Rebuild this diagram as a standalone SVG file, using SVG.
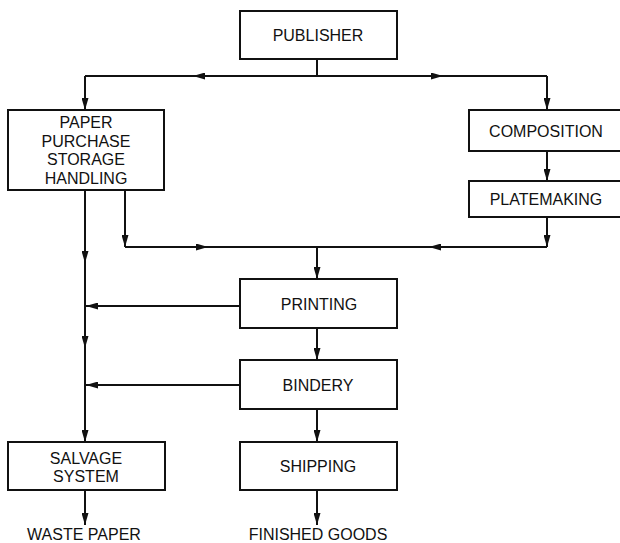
<svg xmlns="http://www.w3.org/2000/svg" width="620" height="543" viewBox="0 0 620 543">
<defs>
<marker id="ah" viewBox="0 0 12 7" refX="12" refY="3.5" markerWidth="12" markerHeight="7" markerUnits="userSpaceOnUse" orient="auto">
<path d="M0,0 L12,3.5 L0,7 Z" fill="#111"/>
</marker>
<style>
.box{fill:#fff;stroke:#111;stroke-width:2}
.lbl{font-family:"Liberation Sans",Arial,sans-serif;font-size:16px;fill:#111;text-anchor:middle}
.ln{fill:none;stroke:#111;stroke-width:2}
.ar{fill:none;stroke:#111;stroke-width:2;marker-end:url(#ah)}
</style>
</defs>
<rect width="620" height="543" fill="#fff"/>
<g id="connectors">
<path class="ln" d="M317,59 V76"/>
<path class="ln" d="M85,76 H547"/>
<path class="ar" d="M85,76 V110"/>
<path class="ar" d="M547,76 V110"/>
<path class="ar" d="M210,76 H193"/>
<path class="ar" d="M428,76 H443"/>
<path class="ar" d="M547,151 V181"/>
<path class="ar" d="M547,217 V247"/>
<path class="ln" d="M125,247 H547"/>
<path class="ar" d="M125,190 V247"/>
<path class="ar" d="M194,247 H208"/>
<path class="ar" d="M444,247 H429"/>
<path class="ar" d="M317,247 V279"/>
<path class="ar" d="M85,190 V442"/>
<path class="ar" d="M85,248 V263"/>
<path class="ar" d="M85,333 V348"/>
<path class="ar" d="M240,306 H86"/>
<path class="ar" d="M240,385 H86"/>
<path class="ar" d="M317,328 V360"/>
<path class="ar" d="M317,409 V442"/>
<path class="ar" d="M85,490 V525"/>
<path class="ar" d="M317,490 V525"/>
</g>
<g id="publisher">
<rect class="box" x="240" y="11" width="157" height="48"/>
<text class="lbl" x="318" y="41">PUBLISHER</text>
</g>
<g id="paper">
<rect class="box" x="8" y="110" width="156" height="80"/>
<text class="lbl" x="86" y="128">PAPER</text>
<text class="lbl" x="86" y="146.5">PURCHASE</text>
<text class="lbl" x="86" y="165">STORAGE</text>
<text class="lbl" x="86" y="183.5">HANDLING</text>
</g>
<g id="composition">
<rect class="box" x="469" y="110" width="160" height="41"/>
<text class="lbl" x="546" y="137">COMPOSITION</text>
</g>
<g id="platemaking">
<rect class="box" x="469" y="181" width="160" height="36"/>
<text class="lbl" x="546" y="205">PLATEMAKING</text>
</g>
<g id="printing">
<rect class="box" x="240" y="279" width="157" height="49"/>
<text class="lbl" x="319" y="310">PRINTING</text>
</g>
<g id="bindery">
<rect class="box" x="240" y="360" width="157" height="49"/>
<text class="lbl" x="318" y="391">BINDERY</text>
</g>
<g id="shipping">
<rect class="box" x="240" y="442" width="157" height="48"/>
<text class="lbl" x="318" y="472">SHIPPING</text>
</g>
<g id="salvage">
<rect class="box" x="8" y="442" width="157" height="48"/>
<text class="lbl" x="86" y="464">SALVAGE</text>
<text class="lbl" x="86" y="482">SYSTEM</text>
</g>
<g id="waste">
<text class="lbl" x="84" y="539.5">WASTE PAPER</text>
</g>
<g id="finished">
<text class="lbl" x="318" y="539.5">FINISHED GOODS</text>
</g>
</svg>
